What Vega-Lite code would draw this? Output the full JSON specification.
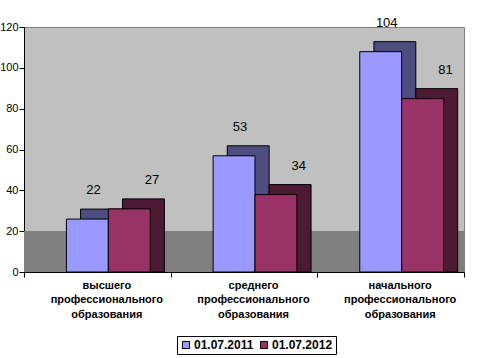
{
  "$schema": "https://vega.github.io/schema/vega-lite/v6.json",
  "width": 440,
  "height": 245,
  "padding": {"left": -1, "top": 16, "right": 32, "bottom": 2},
  "background": "white",
  "config": {
    "font": "Liberation Sans",
    "view": {"fill": "#C0C0C0", "stroke": "#808080", "strokeWidth": 1}
  },
  "data": {
    "values": [
      {"category": "высшего профессионального образования", "date": "01.07.2011", "value": 22},
      {"category": "высшего профессионального образования", "date": "01.07.2012", "value": 27},
      {"category": "среднего профессионального образования", "date": "01.07.2011", "value": 53},
      {"category": "среднего профессионального образования", "date": "01.07.2012", "value": 34},
      {"category": "начального профессионального образования", "date": "01.07.2011", "value": 104},
      {"category": "начального профессионального образования", "date": "01.07.2012", "value": 81}
    ]
  },
  "encoding": {
    "x": {
      "field": "category", "type": "nominal", "sort": null,
      "scale": {"paddingInner": 0, "paddingOuter": 0},
      "axis": {
        "title": null, "labelAngle": 0, "labelExpr": "split(datum.label, ' ')",
        "labelFontWeight": "bold", "labelFontSize": 11, "labelColor": "black",
        "labelLineHeight": 14.5, "labelPadding": 2, "labelOffset": 9,
        "tickBand": "extent", "tickColor": "black", "tickSize": 5,
        "domainColor": "black", "grid": false
      }
    }
  },
  "resolve": {"scale": {"xOffset": "independent"}},
  "layer": [
    {
      "mark": {"type": "rect", "color": "#808080"},
      "encoding": {
        "x": {"value": 0},
        "x2": {"value": "width"},
        "y": {"datum": 0},
        "y2": {"datum": 20}
      }
    },
    {
      "mark": {"type": "bar", "yOffset": -18, "stroke": "black", "strokeWidth": 1},
      "encoding": {
        "xOffset": {"field": "date", "type": "nominal", "scale": {"paddingInner": 0, "paddingOuter": 0.75, "align": 0.9}},
        "y": {"field": "value", "type": "quantitative"},
        "y2": {"datum": 0},
        "color": {
          "field": "date", "type": "nominal",
          "scale": {"range": ["#4D4D80", "#4D1A33"]},
          "legend": null
        }
      }
    },
    {
      "mark": {"type": "bar", "yOffset": -8, "stroke": "black", "strokeWidth": 1},
      "encoding": {
        "xOffset": {"field": "date", "type": "nominal", "scale": {"paddingInner": 0, "paddingOuter": 0.75, "align": 0.675}},
        "y": {
          "field": "value", "type": "quantitative",
          "scale": {"domain": [0, 120]},
          "axis": {
            "title": null, "values": [0, 20, 40, 60, 80, 100, 120], "grid": false,
            "domainColor": "black", "tickColor": "black", "tickSize": 5,
            "labelFontSize": 11, "labelColor": "black", "labelPadding": 1
          }
        },
        "y2": {"datum": 0},
        "fill": {
          "field": "date", "type": "nominal",
          "scale": {"range": ["#9999FF", "#993366"]},
          "legend": {
            "title": null, "orient": "none", "legendX": 153, "legendY": 309, "direction": "horizontal",
            "symbolType": "square", "symbolSize": 50, "symbolStrokeColor": "black", "symbolStrokeWidth": 1,
            "labelFontSize": 12, "labelFontWeight": "bold", "labelColor": "black",
            "strokeColor": "black", "padding": 3, "columnPadding": 4, "labelOffset": 2
          }
        }
      }
    },
    {
      "mark": {"type": "text", "dy": -37, "dx": 10, "fontSize": 13, "fontWeight": "normal", "color": "black"},
      "encoding": {
        "xOffset": {"field": "date", "type": "nominal", "scale": {"paddingInner": 0, "paddingOuter": 0.75, "align": 0.675}},
        "y": {"field": "value", "type": "quantitative"},
        "text": {"field": "value", "type": "quantitative"}
      }
    }
  ]
}
